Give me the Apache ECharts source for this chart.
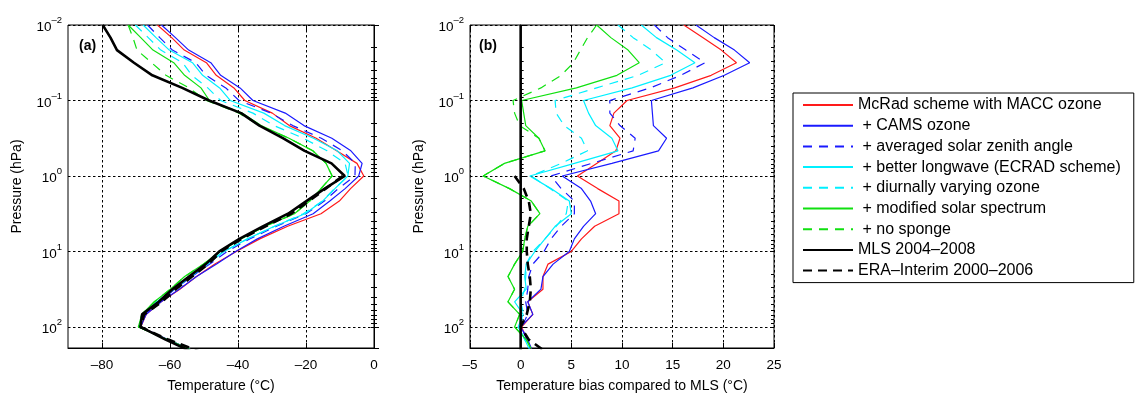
<!DOCTYPE html>
<html>
<head>
<meta charset="utf-8">
<script src="https://cdn.jsdelivr.net/npm/echarts@6/dist/echarts.min.js"></script>
<style>
  html, body { margin: 0; padding: 0; background: #fff; }
  #chart { width: 1135px; height: 396px; }
</style>
</head>
<body>
<div id="chart"></div>
<script>
// pressure levels (hPa), MLS standard grid
const levels = [0.01, 0.0147, 0.0215, 0.0316, 0.0464, 0.0681, 0.1, 0.147, 0.215, 0.316, 0.464, 0.681,
  1, 1.47, 2.15, 3.16, 4.64, 6.81, 10, 14.7, 21.5, 31.6, 46.4, 68.1, 100, 147, 215];

// panel (a): temperature (degC)
const tMacc = [-63.7, -59.5, -55.8, -49.3, -46.4, -41.2, -38.0, -29.9, -24.9, -17.0, -11.0, -5.0, -3.0, -6.9, -10.2, -15.6, -25.4, -33.6, -40.5, -46.8, -52.2, -57.1, -62.6, -67.0, -68.6, -60.7, -52.2];
const tCams = [-62.5, -58.4, -54.5, -48.0, -45.1, -39.4, -35.6, -26.1, -20.6, -12.4, -6.8, -3.5, -4.5, -8.5, -13.0, -17.9, -26.5, -34.3, -40.7, -46.3, -52.2, -57.3, -62.6, -67.0, -68.7, -60.6, -52.2];
const tZenith = [-66.6, -63.0, -59.3, -52.4, -49.4, -43.6, -39.7, -30.3, -23.9, -15.5, -9.3, -5.5, -5.6, -10.5, -14.6, -20.0, -28.7, -36.6, -43.2, -48.3, -53.6, -58.6, -62.8, -67.5, -68.6, -60.7, -52.4];
const tEcrad = [-67.9, -64.1, -60.2, -53.4, -50.4, -45.4, -42.3, -32.4, -26.3, -17.8, -10.8, -7.2, -7.7, -11.5, -15.1, -20.3, -29.3, -37.2, -44.1, -49.0, -54.0, -58.8, -63.9, -68.0, -69.0, -60.9, -52.4];
const tDiurnal = [-70.2, -66.4, -62.7, -56.3, -53.6, -48.9, -45.1, -35.6, -29.4, -20.8, -13.8, -8.5, -7.6, -11.6, -15.2, -20.8, -29.2, -37.2, -44.3, -49.0, -53.9, -58.9, -63.3, -67.9, -68.8, -60.9, -52.4];
const tSolar = [-72.3, -68.6, -65.0, -58.9, -55.7, -50.9, -48.4, -38.8, -33.2, -25.0, -18.0, -14.1, -12.3, -15.6, -18.9, -23.4, -32.0, -39.2, -45.3, -50.1, -55.7, -59.9, -64.6, -68.3, -69.3, -60.8, -52.2];
const tNoSponge = [-72.3, -70.9, -69.7, -65.4, -61.2, -54.4, -49.3, -39.7, -33.8, -25.0, -18.0, -14.1, -12.3, -15.6, -18.9, -23.4, -32.0, -39.2, -45.3, -50.1, -55.7, -59.9, -64.6, -68.3, -69.3, -60.8, -52.2];
const tMls = [-79.8, -77.5, -75.6, -70.6, -65.2, -56.4, -48.5, -39.1, -33.7, -26.8, -20.4, -12.5, -8.6, -14.5, -19.9, -25.3, -32.7, -39.6, -45.5, -49.5, -54.4, -59.3, -63.3, -68.2, -68.7, -61.3, -53.4];
const tEra = [null, null, null, null, null, null, null, null, null, null, null, null, -9.2, -14.2, -19.1, -24.3, -31.9, -39.0, -44.9, -48.8, -53.5, -58.3, -62.4, -67.6, -68.7, -60.5, -50.9];

// panel (b): bias against MLS (degC)
const bMacc = [16.1, 18.0, 19.8, 21.3, 18.8, 15.2, 10.5, 9.2, 8.8, 9.8, 9.4, 7.5, 5.6, 7.6, 9.7, 9.7, 7.3, 6.0, 5.0, 2.7, 2.2, 2.2, 0.7, 1.2, 0.1, 0.6, 1.2];
const bCams = [17.3, 19.1, 21.1, 22.6, 20.1, 17.0, 12.9, 13.0, 13.1, 14.4, 13.6, 9.0, 4.1, 6.0, 6.9, 7.4, 6.2, 5.3, 4.8, 3.2, 2.2, 2.0, 0.7, 1.2, 0.0, 0.7, 1.2];
const bZenith = [13.2, 14.5, 16.3, 18.2, 15.8, 12.8, 8.8, 8.8, 9.8, 11.3, 11.1, 7.0, 3.0, 4.0, 5.3, 5.3, 4.0, 3.0, 2.3, 1.2, 0.8, 0.7, 0.5, 0.7, 0.1, 0.6, 1.0];
const bEcrad = [11.9, 13.4, 15.4, 17.2, 14.8, 11.0, 6.2, 6.7, 7.4, 9.0, 9.6, 5.3, 0.9, 3.0, 4.8, 5.0, 3.4, 2.4, 1.4, 0.55, 0.4, 0.55, -0.6, 0.25, -0.25, 0.4, 1.0];
const bDiurnal = [9.6, 11.1, 12.9, 14.3, 11.6, 7.5, 3.4, 3.5, 4.3, 6.0, 6.6, 4.0, 1.05, 2.9, 4.7, 4.5, 3.5, 2.4, 1.2, 0.55, 0.5, 0.4, 0.0, 0.3, -0.1, 0.4, 1.0];
const bSolar = [7.5, 8.9, 10.6, 11.7, 9.5, 5.5, 0.1, 0.3, 0.5, 1.8, 2.4, -1.6, -3.7, -1.1, 1.05, 1.9, 0.7, 0.4, 0.2, -0.6, -1.25, -0.6, -1.25, -0.1, -0.6, 0.55, 1.2];
const bNoSponge = [7.5, 6.6, 5.9, 5.2, 4.0, 2.0, -0.75, -0.6, -0.1, 1.8, 2.4, -1.6, -3.7, -1.1, 1.05, 1.9, 0.7, 0.4, 0.2, -0.6, -1.25, -0.6, -1.25, -0.1, -0.6, 0.55, 1.2];
const bMls = [0, 0, 0, 0, 0, 0, 0, 0, 0, 0, 0, 0, 0, 0, 0, 0, 0, 0, 0, 0, 0, 0, 0, 0, 0, 0, 0];
const bEra = [null, null, null, null, null, null, null, null, null, null, null, null, -0.6, 0.3, 0.8, 1.0, 0.8, 0.6, 0.6, 0.7, 0.9, 1.0, 0.9, 0.6, 0.0, 0.8, 2.5];

const names = ['McRad scheme with MACC ozone', ' + CAMS ozone', ' + averaged solar zenith angle',
  ' + better longwave (ECRAD scheme)', ' + diurnally varying ozone', ' + modified solar spectrum',
  ' + no sponge', 'MLS 2004\u20132008', 'ERA\u2013Interim 2000\u20132006'];
const tempTicks = [-80, -60, -40, -20, 0];
const decades = [0.01, 0.1, 1, 10, 100];
const minorSteps = [2, 3, 4, 5, 6, 7, 8, 9];

const looks = [
  {color: '#ff1a1a', type: 'solid', width: 1.2},
  {color: '#1a1aff', type: 'solid', width: 1.2},
  {color: '#1a1aff', type: [9, 7], width: 1.2},
  {color: '#00f0ff', type: 'solid', width: 1.2},
  {color: '#00f0ff', type: [9, 7], width: 1.2},
  {color: '#10e010', type: 'solid', width: 1.2},
  {color: '#10e010', type: [9, 7], width: 1.2},
  {color: '#000000', type: 'solid', width: 2.6},
  {color: '#000000', type: [9, 6], width: 2.6}
];

const FONT = '"Liberation Sans", Arial, Helvetica, sans-serif';
const minorTicks = [];
decades.forEach(d => { if (d < 100) minorSteps.forEach(m => minorTicks.push(+(d * m).toPrecision(3))); });
const allTicks = decades.concat(minorTicks);
const gridDash = {color: '#000', type: [2.5, 2.5], width: 1};

function expLabel(v) {
  const lg = Math.log10(v);
  const e = Math.round(lg);
  if (Math.abs(lg - e) > 1e-6) return '';
  return '{b|10}{s|' + (e < 0 ? '\u2013' + (-e) : e) + '}';
}

const gridsPos = [{left: 68, width: 306}, {left: 470, width: 304}];

function yAxesFor(g) {
  const base = {gridIndex: g, type: 'log', logBase: 10, min: 0.01, max: 190, inverse: true};
  return [
    Object.assign({}, base, {
      position: 'left',
      name: 'Pressure (hPa)', nameLocation: 'middle', nameGap: 44,
      nameTextStyle: {fontFamily: FONT, fontSize: 14, color: '#000'},
      axisLine: {show: true, lineStyle: {color: '#000', width: 1}},
      axisTick: {show: true, inside: true, length: 5, lineStyle: {color: '#000'}},
      axisLabel: {
        color: '#000', margin: 6, formatter: expLabel,
        rich: {
          b: {fontFamily: FONT, fontSize: 13.5, color: '#000', lineHeight: 19, verticalAlign: 'bottom'},
          s: {fontFamily: FONT, fontSize: 9.5, color: '#000', verticalAlign: 'top'}
        }
      },
      splitLine: {show: true, lineStyle: gridDash}
    }),
    Object.assign({}, base, {
      position: 'left', offset: 0,
      axisLine: {show: false}, axisLabel: {show: false}, splitLine: {show: false},
      axisTick: {show: true, inside: true, length: 3, customValues: minorTicks, lineStyle: {color: '#000'}}
    }),
    Object.assign({}, base, {
      position: 'right', offset: 0,
      axisLine: {show: false}, axisLabel: {show: false}, splitLine: {show: false},
      axisTick: {show: true, inside: true, length: 3, customValues: allTicks, lineStyle: {color: '#000'}}
    })
  ];
}

const axisFont = {fontFamily: FONT, fontSize: 13.5, color: '#000'};
const minusFix = v => String(v).replace('-', '\u2013');

const xAxes = [
  {
    gridIndex: 0, type: 'value', min: -90, max: 0,
    name: 'Temperature (\u00b0C)', nameLocation: 'middle', nameGap: 31,
    nameTextStyle: {fontFamily: FONT, fontSize: 14, color: '#000'},
    axisLine: {show: true, onZero: false, lineStyle: {color: '#000'}},
    axisTick: {show: true, inside: true, length: 5, customValues: tempTicks, lineStyle: {color: '#000'}},
    axisLabel: Object.assign({customValues: tempTicks, margin: 10, formatter: minusFix}, axisFont),
    splitLine: {show: true, lineStyle: gridDash}
  },
  {
    gridIndex: 0, type: 'value', min: -90, max: 0, position: 'top',
    axisLine: {show: false}, axisLabel: {show: false}, splitLine: {show: false},
    axisTick: {show: true, inside: true, length: 5, customValues: tempTicks, lineStyle: {color: '#000'}}
  },
  {
    gridIndex: 1, type: 'value', min: -5, max: 25, interval: 5,
    name: 'Temperature bias compared to MLS (\u00b0C)', nameLocation: 'middle', nameGap: 31,
    nameTextStyle: {fontFamily: FONT, fontSize: 14, color: '#000'},
    axisLine: {show: true, onZero: false, lineStyle: {color: '#000'}},
    axisTick: {show: true, inside: true, length: 5, lineStyle: {color: '#000'}},
    axisLabel: Object.assign({margin: 10, formatter: minusFix}, axisFont),
    splitLine: {show: true, lineStyle: gridDash}
  },
  {
    gridIndex: 1, type: 'value', min: -5, max: 25, interval: 5, position: 'top',
    axisLine: {show: false}, axisLabel: {show: false}, splitLine: {show: false},
    axisTick: {show: true, inside: true, length: 5, lineStyle: {color: '#000'}}
  }
];

function pairs(vals) {
  const out = [];
  vals.forEach((v, i) => { if (v !== null) out.push([v, levels[i]]); });
  return out;
}

const tempSeries = [tMacc, tCams, tZenith, tEcrad, tDiurnal, tSolar, tNoSponge, tMls, tEra];
const biasSeries = [bMacc, bCams, bZenith, bEcrad, bDiurnal, bSolar, bNoSponge, bMls, bEra];

const series = [];
[[tempSeries, 0, 0], [biasSeries, 2, 3]].forEach(([set, xi, yi]) => {
  set.forEach((vals, k) => {
    series.push({
      name: names[k], type: 'line', xAxisIndex: xi, yAxisIndex: yi,
      data: pairs(vals), symbol: 'none', showSymbol: false, clip: true,
      lineStyle: {color: looks[k].color, type: looks[k].type, width: looks[k].width},
      itemStyle: {color: looks[k].color},
      emphasis: {disabled: true}
    });
  });
});

const chart = echarts.init(document.getElementById('chart'), null, {renderer: 'canvas'});
chart.setOption({
  animation: false,
  backgroundColor: '#fff',
  grid: gridsPos.map(g => ({
    left: g.left, width: g.width, top: 25, height: 323,
    show: true, borderColor: '#000', borderWidth: 1, backgroundColor: 'transparent',
    containLabel: false, outerBoundsMode: 'none'
  })),
  xAxis: xAxes,
  yAxis: yAxesFor(0).concat(yAxesFor(1)),
  legend: {
    data: names, orient: 'vertical', left: 793, top: 93,
    padding: [4, 13, 4, 9], itemGap: 4.7, itemWidth: 50, itemHeight: 16,
    borderColor: '#000', borderWidth: 1, backgroundColor: '#fff',
    selectedMode: false,
    itemStyle: {opacity: 0, borderWidth: 0},
    textStyle: {fontFamily: FONT, fontSize: 16, color: '#000', lineHeight: 16}
  },
  graphic: [
    {type: 'text', left: 79, top: 39, style: {text: '(a)', fontFamily: FONT, fontSize: 14, fontWeight: 'bold', fill: '#000'}},
    {type: 'text', left: 479, top: 39, style: {text: '(b)', fontFamily: FONT, fontSize: 14, fontWeight: 'bold', fill: '#000'}}
  ],
  series: series
});
</script>
</body>
</html>
